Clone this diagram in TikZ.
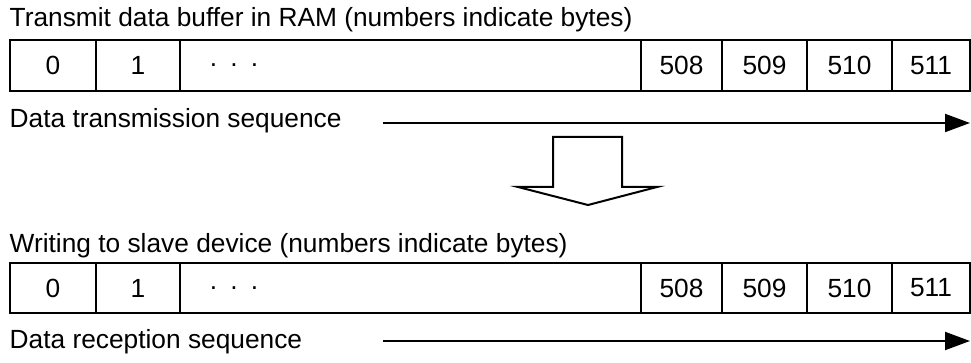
\documentclass[tikz,border=0pt]{standalone}
\usepackage{fontspec}
\setmainfont{Liberation Sans}
\usetikzlibrary{arrows.meta}
\begin{document}
\begin{tikzpicture}[x=1pt,y=-1pt,
  txt/.style={font=\fontsize{26.3}{30}\selectfont},
  cell/.style={txt, draw, line width=2.2pt, inner sep=0pt},
  lbl/.style={txt, anchor=base west, inner sep=0pt},
  seq/.style={line width=2pt, -{Triangle[length=25pt,width=18pt]}},
  bigarrow/.style={draw, line width=2pt, line join=miter, fill=white}]
\useasboundingbox (0,0) rectangle (971,363);
% top row
\node[lbl] (title1) at (9.5,26.5) {Transmit data buffer in RAM (numbers indicate bytes)};
\foreach \n/\l/\r/\t in {0/10/96/0, 1/96/180/1, 2/180/641/{}, 3/641/722/508, 4/722/807/509, 5/807/892/510, 6/892/970/511}
  \node[cell, minimum width={\r-\l}, minimum height=51pt] (t\n) at ({(\l+\r)/2},65.5) {\t};
\node[txt, inner sep=0pt] (tdots) at (234,65.5) {.\hspace{0.5em}.\hspace{0.5em}.};
\node[lbl] (seq1) at (9.5,128) {Data transmission sequence};
\coordinate (a1s) at (383,123);
\coordinate (a1e) at (970,123);
\draw[seq] (a1s) -- (a1e);
% big hollow arrow
\path[bigarrow] (553,137) -- (622,137) -- (622,187) -- (657,187) -- (588,205) -- (518,187) -- (553,187) -- cycle;
% bottom row
\node[lbl] (title2) at (9.5,253) {Writing to slave device (numbers indicate bytes)};
\foreach \n/\l/\r/\t in {0/10/96/0, 1/96/180/1, 2/180/641/{}, 3/641/722/508, 4/722/807/509, 5/807/892/510, 6/892/970/511}
  \node[cell, minimum width={\r-\l}, minimum height=50pt] (b\n) at ({(\l+\r)/2},288) {\t};
\node[txt, inner sep=0pt] (bdots) at (234,288) {.\hspace{0.5em}.\hspace{0.5em}.};
\node[lbl] (seq2) at (9.5,348) {Data reception sequence};
\coordinate (a2s) at (383,341);
\coordinate (a2e) at (970,341);
\draw[seq] (a2s) -- (a2e);
\end{tikzpicture}
\end{document}
